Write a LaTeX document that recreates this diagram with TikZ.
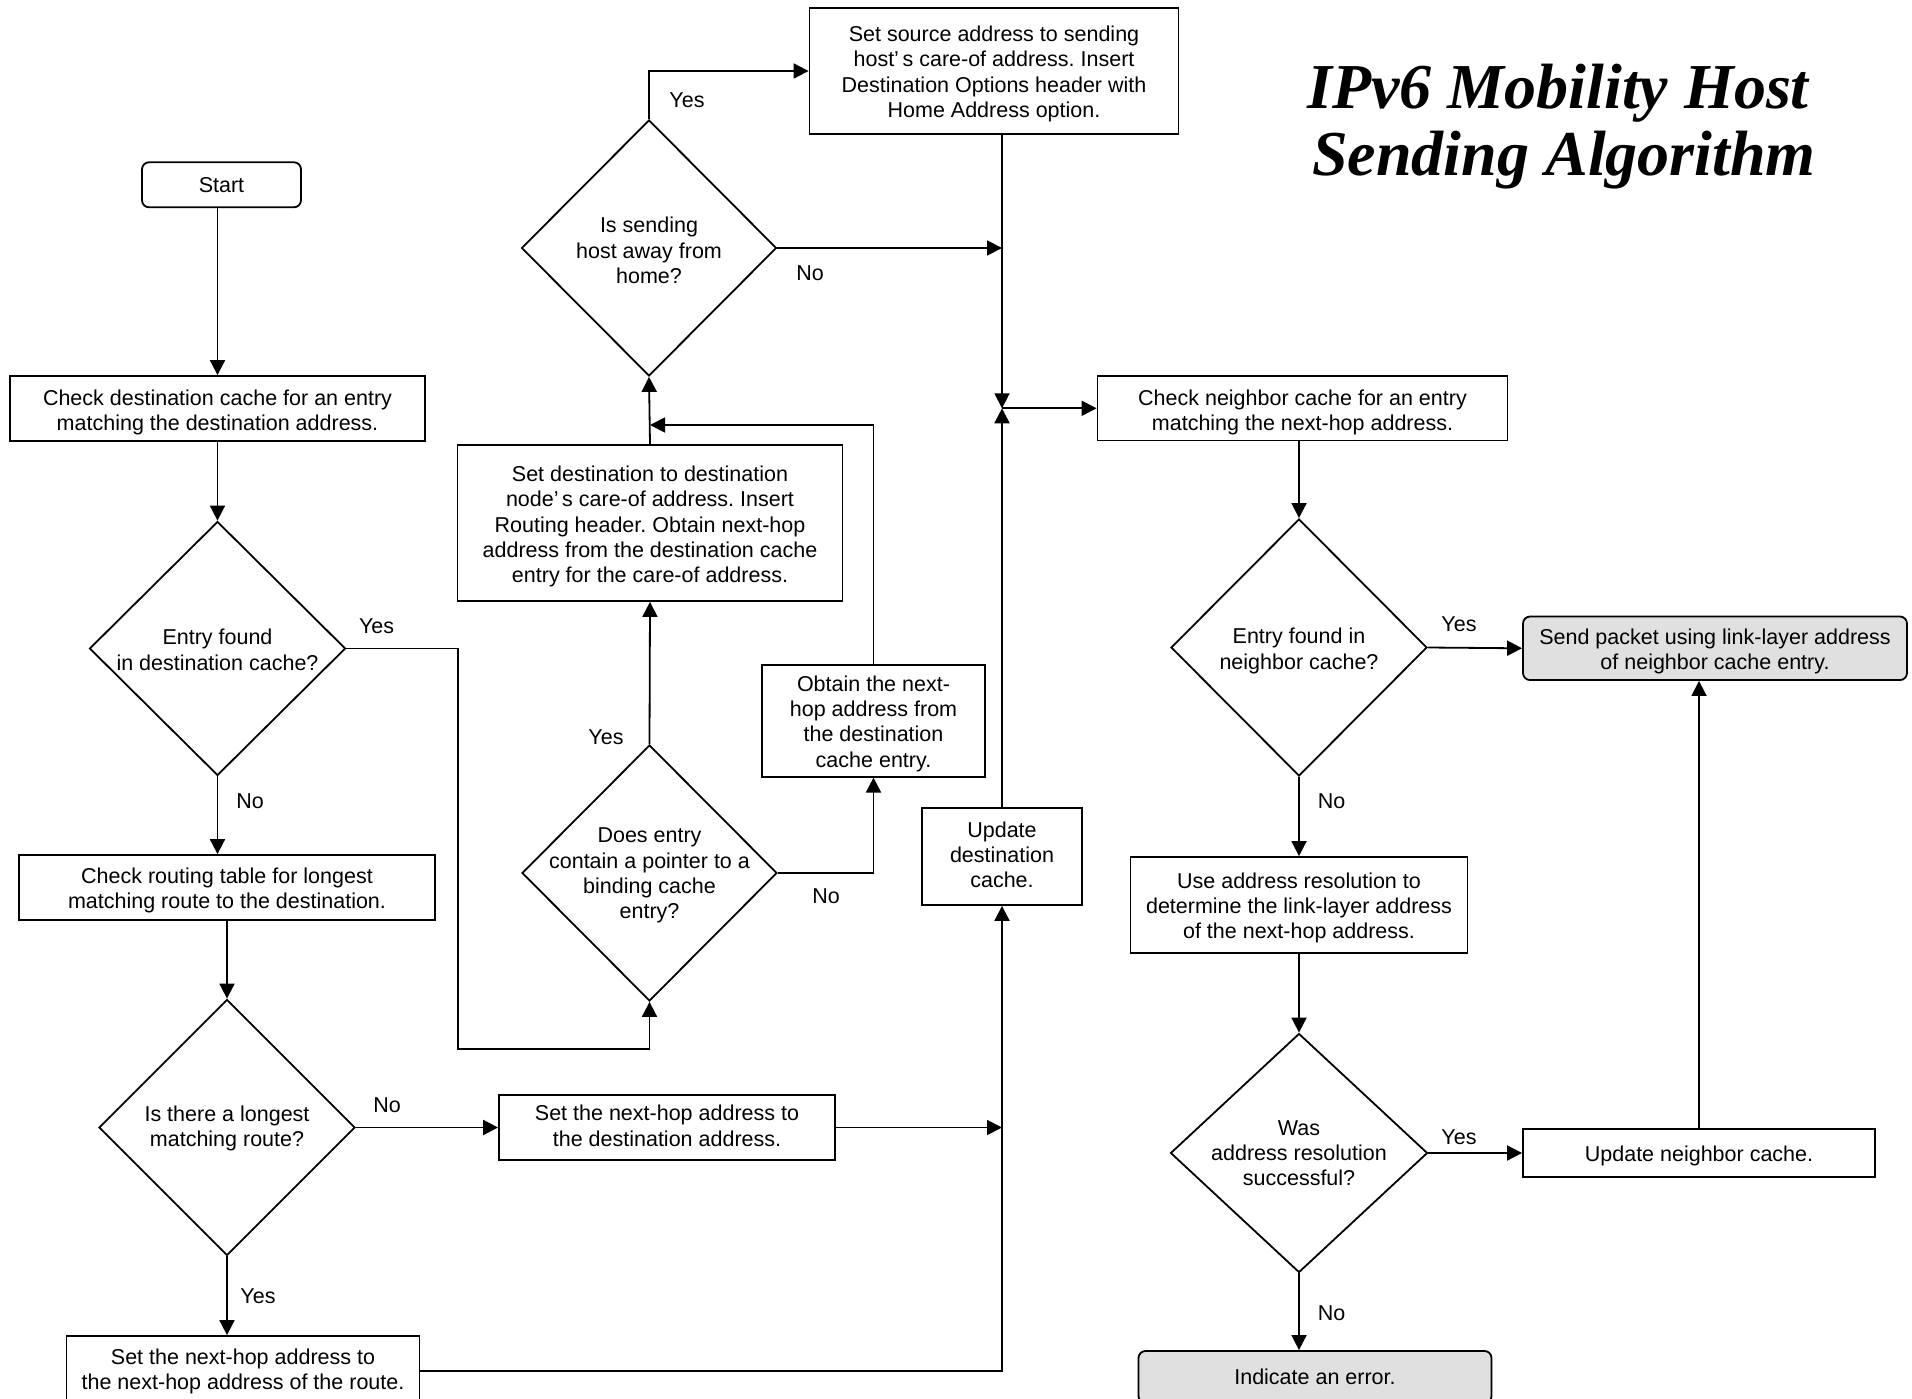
\documentclass[tikz,border=0pt]{standalone}
\usepackage{fontspec}
\setmainfont{Liberation Sans}
\newfontfamily\titlefont{Liberation Serif}
\usetikzlibrary{arrows.meta,shapes.geometric}
\definecolor{termfill}{RGB}{224,224,224}
\frenchspacing
% centred stack of lines, lowered a little inside its box (box size kept)
\newcommand{\boxlines}[2][3.5pt]{\raisebox{-#1}[\height][\depth]{\begin{tabular}{@{}c@{}}#2\end{tabular}}}

\begin{document}
\begin{tikzpicture}[x=1pt,y=-1pt,
  font=\fontsize{21.5}{25.3}\selectfont,
  line width=1.8pt,
  proc/.style={draw,rectangle,inner sep=0pt},
  term/.style={proc,rounded corners=7pt},
  termgray/.style={term,fill=termfill},
  decision/.style={draw,diamond,inner sep=0pt,aspect=1},
  dtext/.style={inner sep=0pt,align=center},
  lbl/.style={inner sep=0pt},
  arr/.style={-{Triangle[length=15pt,width=15pt]}},
  ttl/.style={inner sep=0pt,anchor=base,font=\titlefont\bfseries\itshape\fontsize{64}{67}\selectfont}
]
\useasboundingbox (0,0) rectangle (1912,1399);

% ---- title ----
\node[ttl] (title1) at (1558,109) {IPv6 Mobility Host};
\node[ttl] (title2) at (1564,176) {Sending Algorithm};

% ---- left column ----
\node[term,minimum width=159pt,minimum height=45pt] (start) at (221.5,184.8) {Start};
\node[proc,minimum width=415pt,minimum height=65pt] (b1) at (217.5,408.5)
  {\boxlines[4.5pt]{Check destination cache for an entry\\matching the destination address.}};
\node[decision,minimum width=256pt,minimum height=254pt] (d1) at (217.5,648.5) {};
\node[dtext] (d1t) at ([yshift=-1.2pt]d1) {Entry found\\in destination cache?};
\node[proc,minimum width=416pt,minimum height=65pt] (b2) at (227,887.5)
  {\boxlines{Check routing table for longest\\matching route to the destination.}};
\node[decision,minimum width=256pt,minimum height=256pt] (d2) at (227,1127.5) {};
\node[dtext] (d2t) at ([yshift=-1.2pt]d2) {Is there a longest\\matching route?};
\node[proc,minimum width=353pt,minimum height=70pt] (b3) at (243,1371)
  {\boxlines[1pt]{Set the next-hop address to\\the next-hop address of the route.}};

% ---- middle column ----
\node[proc,minimum width=369pt,minimum height=126pt] (src) at (994,71)
  {\boxlines{Set source address to sending\\host’\,s care-of address. Insert\\Destination Options header with\\Home Address option.}};
\node[decision,minimum width=255pt,minimum height=256pt] (d0) at (649,248) {};
\node[dtext] (d0t) at ([yshift=-2.5pt]d0) {Is sending\\host away from\\home?};
\node[proc,minimum width=385pt,minimum height=156pt] (sd) at (650,523)
  {\boxlines[4pt]{Set destination to destination\\node’\,s care-of address. Insert\\Routing header. Obtain next-hop\\address from the destination cache\\entry for the care-of address.}};
\node[proc,minimum width=223pt,minimum height=112pt] (ob) at (873.5,720.7)
  {\boxlines{Obtain the next-\\hop address from\\the destination\\cache entry.}};
\node[decision,minimum width=255pt,minimum height=256pt] (de) at (649.5,873) {};
\node[dtext] (det) at ([yshift=-2.5pt]de) {Does entry\\contain a pointer to a\\binding cache\\entry?};
\node[proc,minimum width=336pt,minimum height=64.5pt] (nh) at (667,1127.5)
  {\boxlines[1pt]{Set the next-hop address to\\the destination address.}};
\node[proc,minimum width=160pt,minimum height=97pt] (upd) at (1002,856.5)
  {\boxlines[1pt]{Update\\destination\\cache.}};

% ---- right column ----
\node[proc,minimum width=410pt,minimum height=64.5pt] (nb) at (1302.5,408.3)
  {\boxlines[4.5pt]{Check neighbor cache for an entry\\matching the next-hop address.}};
\node[decision,minimum width=256pt,minimum height=257pt] (d3) at (1299,647.5) {};
\node[dtext] (d3t) at ([yshift=-3.5pt]d3) {Entry found in\\neighbor cache?};
\node[termgray,minimum width=384pt,minimum height=63.5pt] (sp) at (1715,648.3)
  {\boxlines{Send packet using link-layer address\\of neighbor cache entry.}};
\node[proc,minimum width=337pt,minimum height=96pt] (ar) at (1299,905)
  {\boxlines{Use address resolution to\\determine the link-layer address\\of the next-hop address.}};
\node[decision,minimum width=257pt,minimum height=239pt] (d4) at (1299,1153) {};
\node[dtext] (d4t) at (d4) {Was\\address resolution\\successful?};
\node[proc,minimum width=352pt,minimum height=48pt] (un) at (1699,1153)
  {\boxlines{Update neighbor cache.}};
\node[termgray,minimum width=353pt,minimum height=52pt] (err) at (1315,1377) {Indicate an error.};

% ---- junction and bend points ----
\coordinate (j) at (upd.north |- nb.west);
\coordinate (lp) at (458,1048.6);
\coordinate (mg) at (650,425);

% ---- connectors ----
\draw[arr] (start.south -| b1.north) -- (b1.north);
\draw[arr] (b1.south) -- (d1.north);
\draw[arr] (d1.south) -- (d1.south |- b2.north);
\draw[arr] (b2.south) -- (d2.north);
\draw[arr] (d2.south) -- (d2.south |- b3.north);
\draw[arr] (d2.east) -- (nh.west);
\draw[arr] (nh.east) -- (nh.east -| upd.south);
\draw[arr] (b3.east) -| (upd.south);
\draw[arr] (upd.north) -- (j);
\draw[arr] (src.south -| j) -- (j);
\draw[arr] (j) -- (nb.west);
\draw[arr] (d0.east) -- (d0.east -| j);
\draw[arr] (d0.north) |- (src.west);
\draw[arr] (sd.north) -- (d0.south);
\draw[arr] (de.north) -- (sd.south);
\draw[arr] (d1.east) -| (lp) -| (de.south);
\draw[arr] (de.east) -| (ob.south);
\draw[arr] (ob.north) |- (mg);

\draw[arr] (nb.south -| d3.north) -- (d3.north);
\draw[arr] (d3.east) -- (sp.west);
\draw[arr] (d3.south) -- (ar.north);
\draw[arr] (ar.south) -- (d4.north);
\draw[arr] (d4.east) -- (un.west);
\draw[arr] (un.north) -- (un.north |- sp.south);
\draw[arr] (d4.south) -- (d4.south |- err.north);

% ---- branch labels ----
\node[lbl] (l1) at (687,100) {Yes};
\node[lbl] (l2) at (810,273) {No};
\node[lbl] (l3) at (376.6,626) {Yes};
\node[lbl] (l4) at (250,801.6) {No};
\node[lbl] (l5) at (606,737) {Yes};
\node[lbl] (l6) at (826,896.6) {No};
\node[lbl] (l7) at (387,1105) {No};
\node[lbl] (l8) at (258,1296) {Yes};
\node[lbl] (l9) at (1459,624) {Yes};
\node[lbl] (l10) at (1331.7,801.6) {No};
\node[lbl] (l11) at (1459,1137) {Yes};
\node[lbl] (l12) at (1331.7,1313) {No};
\end{tikzpicture}
\end{document}
